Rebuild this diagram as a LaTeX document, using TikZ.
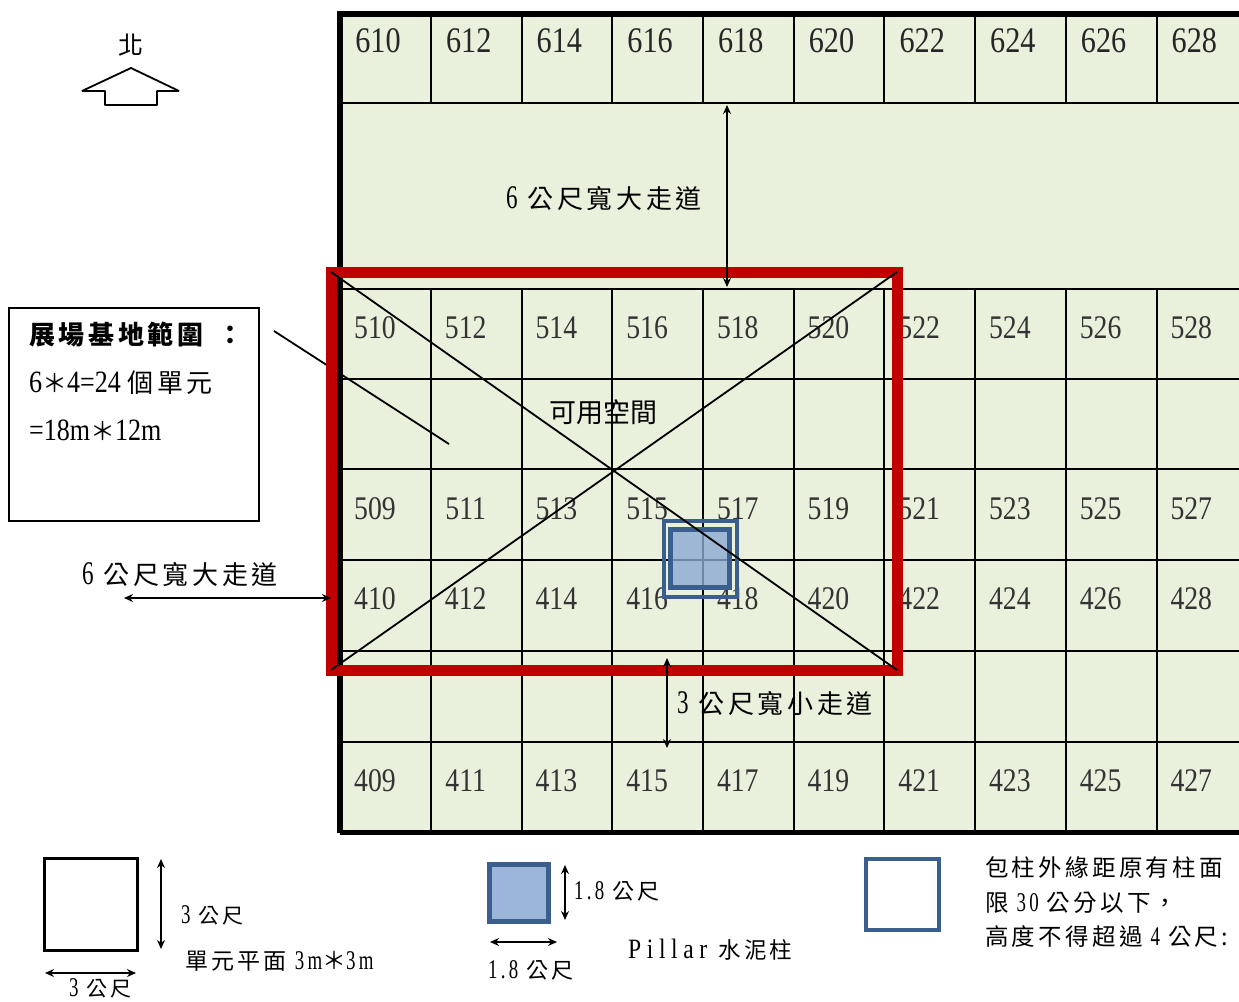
\documentclass[tikz,border=0pt]{standalone}
\usepackage{fontspec}
\usepackage{tikz}
\usetikzlibrary{arrows.meta, positioning}
\setmainfont{Liberation Serif}[FakeStretch=0.84]
\newfontfamily\latsp{Liberation Serif}[FakeStretch=0.7, LetterSpace=12]
\newfontfamily\latwide{Liberation Serif}[FakeStretch=0.84, LetterSpace=20]
\newfontfamily\zhfont{Noto Sans CJK TC}[LetterSpace=14]
\newfontfamily\zhplain{Noto Sans CJK TC}
\newcommand{\setfs}[1]{\fontsize{#1}{#1}\selectfont}
\newcommand{\zh}[2][24]{{\zhfont\setfs{#1}#2}}
\definecolor{hallgreen}{HTML}{E9F0DC}
\definecolor{sitered}{HTML}{C00000}
\definecolor{pillarblue}{HTML}{3A5F8E}
\definecolor{pillarfill}{HTML}{8AA9D2}

\begin{document}
\begin{tikzpicture}[x=1pt, y=-1pt, node distance=90.7pt,
    grid line/.style={black, line width=2pt},
    wall/.style={black, line width=5.5pt},
    top label/.style={font=\setfs{36}, text=black!85, inner sep=0pt},
    cell label/.style={font=\setfs{33}, text=black!80, inner sep=0pt},
    note/.style={font=\latsp\setfs{27}, inner sep=0pt, anchor=west},
    dim/.style={<->, >={Stealth[length=9pt, width=8pt]}, black, line width=2pt},
    thin line/.style={black, line width=1.8pt}]

    \useasboundingbox (0,0) rectangle (1239,1001);

    % Hall floor
    \fill[hallgreen] (340,14) rectangle (1239,832);

    % Grid lines
    \draw[grid line] (340,103) -- (1239,103);
    \draw[grid line] (340,289) -- (1239,289);
    \draw[grid line] (340,379) -- (1239,379);
    \draw[grid line] (340,469) -- (1239,469);
    \draw[grid line] (340,560) -- (1239,560);
    \draw[grid line] (340,651) -- (1239,651);
    \draw[grid line] (340,742) -- (1239,742);
    \draw[grid line] (431,14) -- (431,103);
    \draw[grid line] (522,14) -- (522,103);
    \draw[grid line] (612,14) -- (612,103);
    \draw[grid line] (703,14) -- (703,103);
    \draw[grid line] (794,14) -- (794,103);
    \draw[grid line] (884,14) -- (884,103);
    \draw[grid line] (975,14) -- (975,103);
    \draw[grid line] (1066,14) -- (1066,103);
    \draw[grid line] (1157,14) -- (1157,103);
    \draw[grid line] (431,289) -- (431,832);
    \draw[grid line] (522,289) -- (522,832);
    \draw[grid line] (612,289) -- (612,832);
    \draw[grid line] (703,289) -- (703,832);
    \draw[grid line] (794,289) -- (794,832);
    \draw[grid line] (884,289) -- (884,832);
    \draw[grid line] (975,289) -- (975,832);
    \draw[grid line] (1066,289) -- (1066,832);
    \draw[grid line] (1157,289) -- (1157,832);

    % Outer walls
    \draw[wall] (340,832.5) -- (340,14) -- (1239,14);
    \draw[wall] (340,832.5) -- (1239,832.5);

    % Row 6xx
    \node[top label] (u610) at (378,41) {610};
    \node[top label] (u612) [right of=u610] {612};
    \node[top label] (u614) [right of=u612] {614};
    \node[top label] (u616) [right of=u614] {616};
    \node[top label] (u618) [right of=u616] {618};
    \node[top label] (u620) [right of=u618] {620};
    \node[top label] (u622) [right of=u620] {622};
    \node[top label] (u624) [right of=u622] {624};
    \node[top label] (u626) [right of=u624] {626};
    \node[top label] (u628) [right of=u626] {628};

    % Row 5xx even
    \node[cell label] (u510) at (375,328) {510};
    \node[cell label] (u512) [right of=u510] {512};
    \node[cell label] (u514) [right of=u512] {514};
    \node[cell label] (u516) [right of=u514] {516};
    \node[cell label] (u518) [right of=u516] {518};
    \node[cell label] (u520) [right of=u518] {520};
    \node[cell label] (u522) [right of=u520] {522};
    \node[cell label] (u524) [right of=u522] {524};
    \node[cell label] (u526) [right of=u524] {526};
    \node[cell label] (u528) [right of=u526] {528};

    % Row 5xx odd
    \node[cell label] (u509) at (375,509) {509};
    \node[cell label] (u511) [right of=u509] {511};
    \node[cell label] (u513) [right of=u511] {513};
    \node[cell label] (u515) [right of=u513] {515};
    \node[cell label] (u517) [right of=u515] {517};
    \node[cell label] (u519) [right of=u517] {519};
    \node[cell label] (u521) [right of=u519] {521};
    \node[cell label] (u523) [right of=u521] {523};
    \node[cell label] (u525) [right of=u523] {525};
    \node[cell label] (u527) [right of=u525] {527};

    % Row 4xx even
    \node[cell label] (u410) at (375,599) {410};
    \node[cell label] (u412) [right of=u410] {412};
    \node[cell label] (u414) [right of=u412] {414};
    \node[cell label] (u416) [right of=u414] {416};
    \node[cell label] (u418) [right of=u416] {418};
    \node[cell label] (u420) [right of=u418] {420};
    \node[cell label] (u422) [right of=u420] {422};
    \node[cell label] (u424) [right of=u422] {424};
    \node[cell label] (u426) [right of=u424] {426};
    \node[cell label] (u428) [right of=u426] {428};

    % Row 4xx odd
    \node[cell label] (u409) at (375,781) {409};
    \node[cell label] (u411) [right of=u409] {411};
    \node[cell label] (u413) [right of=u411] {413};
    \node[cell label] (u415) [right of=u413] {415};
    \node[cell label] (u417) [right of=u415] {417};
    \node[cell label] (u419) [right of=u417] {419};
    \node[cell label] (u421) [right of=u419] {421};
    \node[cell label] (u423) [right of=u421] {423};
    \node[cell label] (u425) [right of=u423] {425};
    \node[cell label] (u427) [right of=u425] {427};

    % Callout
    \node[draw, black, line width=2pt, minimum width=250pt, minimum height=213pt] (infobox) at (134,414) {};
    \node[note, font=\setfs{26}] (infotitle) at (29,335) {{\zhfont\bfseries\setfs{26}展場基地範圍\hspace{5pt} ：}};
    \node[note, font=\setfs{31}] (infocount) at (29,383) {6\zh[25]{＊}4=24 \zh[26]{個單元}};
    \node[note, font=\setfs{31}] (infosize) at (29,430) {=18m\zh[25]{＊}12m};
    \coordinate (calloutA) at (274,331);
    \coordinate (calloutB) at (449,444);
    \draw[thin line] (calloutA) -- (calloutB);

    % Pillar in the hall
    \node[draw=pillarblue, line width=4pt, minimum width=73pt, minimum height=76pt] (wrapbox) at (700.5,559) {};
    \node[draw=pillarblue, line width=5pt, fill=pillarfill, fill opacity=0.8, minimum width=59pt, minimum height=58pt] (pillarbox) at (699.5,558.5) {};

    % Site boundary
    \coordinate (siteNW) at (331,272);
    \coordinate (siteNE) at (897,272);
    \coordinate (siteSE) at (897,670);
    \coordinate (siteSW) at (331,670);
    \draw[sitered, line width=11pt] (siteNW) rectangle (siteSE);
    \draw[thin line] (siteNW) -- (siteSE);
    \draw[thin line] (siteNE) -- (siteSW);
    \node[font=\zhplain\setfs{27}, inner sep=0pt] (usable) at (603,412) {可用空間};

    % North
    \node[font=\zhplain\setfs{25}, inner sep=0pt] (north) at (131,45) {北};
    \draw[thin line, line join=bevel] (131,68) -- (179,91) -- (157,91) -- (157,105) -- (105,105) -- (105,91) -- (82,91) -- cycle;

    % Aisles
    \coordinate (bigTop) at (727,105);
    \coordinate (bigBot) at (727,287);
    \draw[dim] (bigTop) -- (bigBot);
    \node[note, font=\latsp\setfs{33}] (bigNorth) at (506,199) {6 \zh[26]{公尺寬大走道}};
    \coordinate (westA) at (124,598);
    \coordinate (westB) at (331,598);
    \draw[dim] (westA) -- (westB);
    \node[note, font=\latsp\setfs{33}] (bigWest) at (82,575) {6 \zh[26]{公尺寬大走道}};
    \coordinate (smallTop) at (667,658);
    \coordinate (smallBot) at (667,748);
    \draw[dim] (smallTop) -- (smallBot);
    \node[note, font=\latsp\setfs{33}] (smallAisle) at (677,704) {3 \zh[26]{公尺寬小走道}};

    % Legend: unit
    \node[draw, black, line width=3pt, minimum width=93pt, minimum height=92pt] (unitbox) at (90.5,904) {};
    \coordinate (unitVa) at (161,859);
    \coordinate (unitVb) at (161,949);
    \draw[dim] (unitVa) -- (unitVb);
    \coordinate (unitHa) at (45,973);
    \coordinate (unitHb) at (136,973);
    \draw[dim] (unitHa) -- (unitHb);
    \node[note] (unitV) at (181,915) {3 \zh[21]{公尺}};
    \node[note] (unitH) at (69,988) {3 \zh[21]{公尺}};
    \node[note] (unitPlan) at (185,961) {\zh[23]{單元平面} 3m\zh[24]{＊}3m};

    % Legend: pillar
    \node[draw=pillarblue, line width=5pt, fill=pillarfill!85!white, minimum width=59pt, minimum height=57pt] (pillarkey) at (519,893) {};
    \coordinate (keyVa) at (565,865);
    \coordinate (keyVb) at (565,920);
    \draw[dim] (keyVa) -- (keyVb);
    \coordinate (keyHa) at (490,942);
    \coordinate (keyHb) at (557,942);
    \draw[dim] (keyHa) -- (keyHb);
    \node[note] (keyV) at (574,891) {1.8 \zh[22]{公尺}};
    \node[note] (keyH) at (488,970) {1.8 \zh[22]{公尺}};
    \node[note, font=\latwide\setfs{28}] (keyName) at (628,950) {Pillar \zh[22.5]{水泥柱}};

    % Legend: wrap
    \node[draw=pillarblue, line width=4pt, minimum width=73pt, minimum height=71pt] (wrapkey) at (902.5,894.5) {};
    \node[note] (wrapA) at (985,868) {\zh[23.5]{包柱外緣距原有柱面}};
    \node[note] (wrapB) at (985,903) {\zh[23.5]{限} 30 \zh[23.5]{公分以下，}};
    \node[note] (wrapC) at (985,937) {\zh[23.5]{高度不得超過} 4 \zh[23.5]{公尺:}};

\end{tikzpicture}
\end{document}
